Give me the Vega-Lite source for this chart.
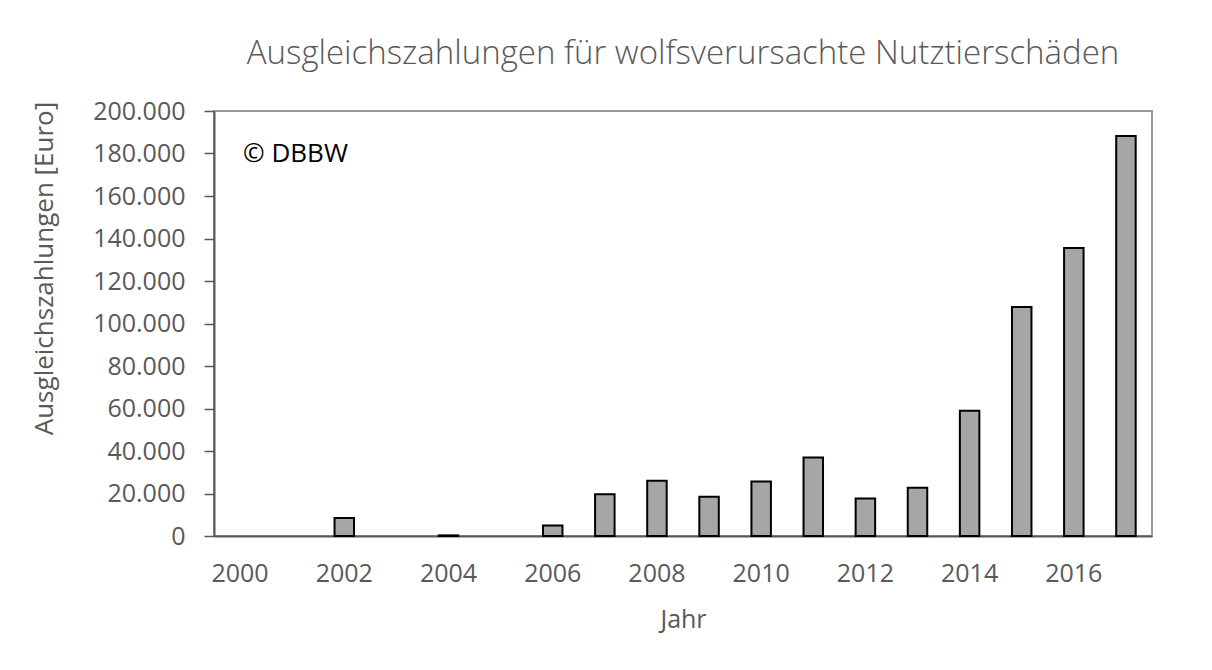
{
  "$schema": "https://vega.github.io/schema/vega-lite/v6.json",
  "autosize": "none",
  "width": 938,
  "height": 425,
  "padding": {"left": 214, "top": 111, "right": 60, "bottom": 134},
  "background": "white",
  "title": {
    "text": "Ausgleichszahlungen für wolfsverursachte Nutztierschäden",
    "anchor": "middle",
    "frame": "group",
    "baseline": "alphabetic",
    "offset": 2,
    "font": "Open Sans",
    "fontSize": 33,
    "fontWeight": 300,
    "color": "#595959"
  },
  "data": {
    "values": [
      {"Jahr": "2000", "Euro": 0},
      {"Jahr": "2001", "Euro": 0},
      {"Jahr": "2002", "Euro": 8500},
      {"Jahr": "2003", "Euro": 0},
      {"Jahr": "2004", "Euro": 300},
      {"Jahr": "2005", "Euro": 0},
      {"Jahr": "2006", "Euro": 5000},
      {"Jahr": "2007", "Euro": 19600},
      {"Jahr": "2008", "Euro": 26000},
      {"Jahr": "2009", "Euro": 18500},
      {"Jahr": "2010", "Euro": 25600},
      {"Jahr": "2011", "Euro": 36900},
      {"Jahr": "2012", "Euro": 17600},
      {"Jahr": "2013", "Euro": 22700},
      {"Jahr": "2014", "Euro": 59000},
      {"Jahr": "2015", "Euro": 107800},
      {"Jahr": "2016", "Euro": 135500},
      {"Jahr": "2017", "Euro": 188200}
    ]
  },
  "layer": [
    {
      "mark": {"type": "bar", "fill": "#a6a6a6", "strokeWidth": 2},
      "encoding": {
        "x": {
          "field": "Jahr",
          "type": "ordinal",
          "sort": null,
          "scale": {"paddingInner": 0.626, "paddingOuter": 0.313},
          "axis": {
            "title": "Jahr",
            "labelAngle": 0,
            "labelExpr": "toNumber(datum.value) % 2 == 0 ? datum.value : ''",
            "ticks": false,
            "tickSize": 0,
            "labelPadding": 25,
            "labelFont": "Open Sans",
            "labelFontSize": 25,
            "labelColor": "#595959",
            "domainColor": "#595959",
            "domainWidth": 2,
            "titleFont": "Open Sans",
            "titleFontSize": 25,
            "titleFontWeight": "normal",
            "titleColor": "#595959",
            "titleBaseline": "alphabetic",
            "titleY": 91
          }
        },
        "y": {
          "field": "Euro",
          "type": "quantitative",
          "scale": {"domain": [0, 200000], "nice": false},
          "axis": {
            "title": "Ausgleichszahlungen [Euro]",
            "values": [0, 20000, 40000, 60000, 80000, 100000, 120000, 140000, 160000, 180000, 200000],
            "format": ",d",
            "labelExpr": "replace(datum.label, /,/g, '.')",
            "grid": false,
            "tickSize": 10,
            "tickWidth": 1.5,
            "tickColor": "#595959",
            "labelPadding": 19,
            "labelFont": "Open Sans",
            "labelFontSize": 25,
            "labelColor": "#595959",
            "domainColor": "#595959",
            "domainWidth": 2,
            "titleFont": "Open Sans",
            "titleFontSize": 26,
            "titleFontWeight": "normal",
            "titleColor": "#595959",
            "titleAngle": -90,
            "titleAlign": "center",
            "titleBaseline": "middle",
            "titleX": -170,
            "titleY": 157
          }
        },
        "stroke": {
          "condition": {"test": "datum.Euro > 0", "value": "black"},
          "value": null
        }
      }
    },
    {
      "data": {"values": [{"Jahr": "2000", "Euro": 176000, "label": "© DBBW"}]},
      "mark": {
        "type": "text",
        "align": "left",
        "baseline": "alphabetic",
        "dx": 3,
        "font": "Open Sans",
        "fontSize": 26,
        "color": "black"
      },
      "encoding": {
        "x": {"field": "Jahr", "type": "ordinal"},
        "y": {"field": "Euro", "type": "quantitative"},
        "text": {"field": "label"}
      }
    }
  ],
  "config": {
    "view": {"stroke": "#9a9a9a", "strokeWidth": 2},
    "axis": {"labelFontWeight": "normal"}
  }
}
